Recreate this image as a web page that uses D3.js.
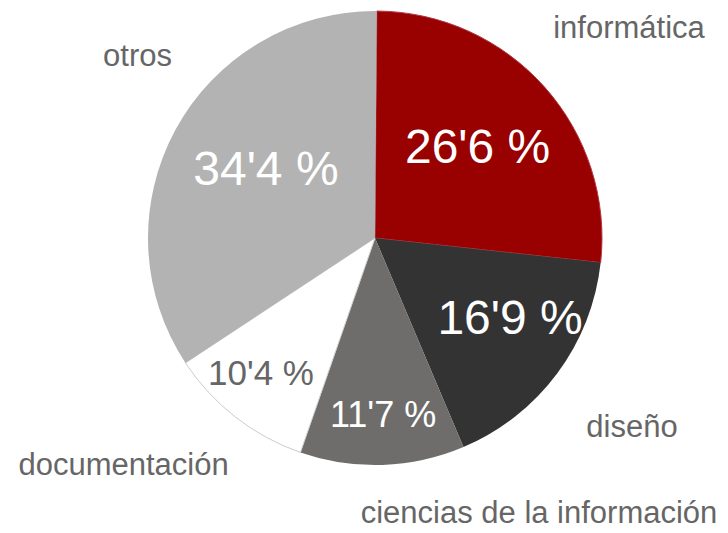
<!DOCTYPE html>
<html>
<head>
<meta charset="utf-8">
<script src="https://cdn.jsdelivr.net/npm/d3@7/dist/d3.min.js"></script>
<style>
  html, body { margin: 0; padding: 0; background: #ffffff; }
  svg { display: block; }
  text { font-family: "Liberation Sans", Arial, sans-serif; }
</style>
</head>
<body>
<svg id="chart" width="728" height="533"></svg>
<script>
// ---- data ----
const categories = ["informática", "diseño", "ciencias de la información", "documentación", "otros"];
const values = [26.6, 16.9, 11.7, 10.4, 34.4];
const valueLabels = ["26'6 %", "16'9 %", "11'7 %", "10'4 %", "34'4 %"];

// ---- styles / layout (not data) ----
const fills = ["#990000", "#333333", "#6e6d6b", "#ffffff", "#b3b3b3"];
const strokes = ["#b03a48", "none", "none", "#cccccc", "none"];
const valueColors = ["#ffffff", "#ffffff", "#ffffff", "#666666", "#ffffff"];
const valueSizes = [48, 48, 36, 35, 48];
// label placement: [angle offset from slice mid (deg), radius factor]
const valuePlace = [[-0.12, 0.606], [-6.18, 0.690], [-0.72, 0.778], [2.3, 0.778], [4.02, 0.570]];
const catPlace = [[1.99, 1.454], [-0.42, 1.4035], [-28.99, 1.408], [10.12, 1.490], [9.03, 1.320]];

const cx = 375, cy = 238, R = 227;
const svg = d3.select("#chart");
const g = svg.append("g").attr("transform", `translate(${cx},${cy})`);

const data = categories.map((c, i) => ({ cat: c, value: values[i], label: valueLabels[i], i }));
const pie = d3.pie().sort(null).value(d => d.value).startAngle(0.008).endAngle(0.008 + 2 * Math.PI);
const arcs = pie(data);
const arc = d3.arc().innerRadius(0).outerRadius(R);

g.selectAll("path.slice").data(arcs).join("path")
  .attr("class", "slice")
  .attr("d", arc)
  .attr("fill", d => fills[d.data.i])
  .attr("stroke", d => strokes[d.data.i])
  .attr("stroke-width", 1);

function polar(d, place) {
  const mid = (d.startAngle + d.endAngle) / 2 + place[0] * Math.PI / 180;
  const r = R * place[1];
  return [Math.sin(mid) * r, -Math.cos(mid) * r];
}

// value labels
g.selectAll("text.val").data(arcs).join("text")
  .attr("class", "val")
  .attr("text-anchor", "middle")
  .attr("dominant-baseline", "central")
  .attr("x", d => polar(d, valuePlace[d.data.i])[0])
  .attr("y", d => polar(d, valuePlace[d.data.i])[1])
  .attr("font-size", d => valueSizes[d.data.i])
  .attr("fill", d => valueColors[d.data.i])
  .text(d => d.data.label);

// category labels
g.selectAll("text.cat").data(arcs).join("text")
  .attr("class", "cat")
  .attr("text-anchor", "middle")
  .attr("dominant-baseline", "central")
  .attr("x", d => polar(d, catPlace[d.data.i])[0])
  .attr("y", d => polar(d, catPlace[d.data.i])[1])
  .attr("font-size", 31)
  .attr("fill", "#666666")
  .text(d => d.data.cat);
</script>
</body>
</html>
